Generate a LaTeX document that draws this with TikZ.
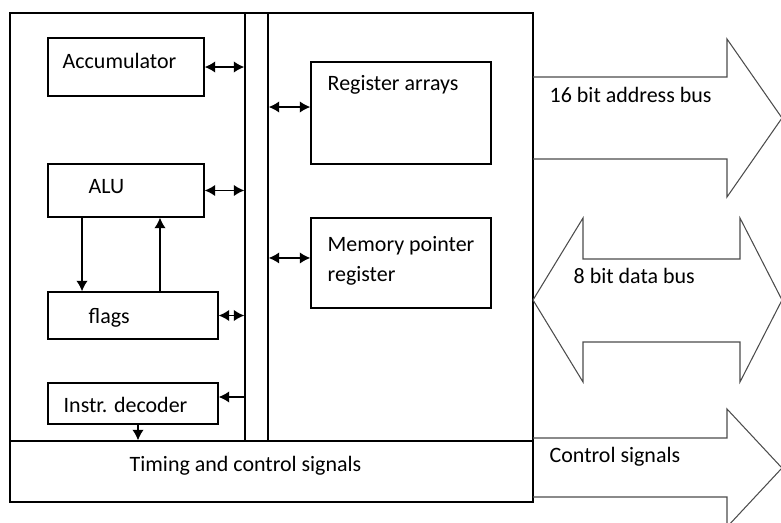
\documentclass[tikz,border=0pt]{standalone}
\usepackage{fontspec}
\setmainfont{Carlito}
\usetikzlibrary{arrows.meta, positioning}
\tikzstyle{block}=[draw,fill=white,rectangle,inner sep=0pt]
\tikzstyle{txt}=[inner sep=0pt,anchor=base west]
\tikzstyle{bigarrow}=[draw=black!70,line width=0.6pt,line join=miter]
\tikzstyle{every node}=[font=\fontsize{12.5}{17}\selectfont]

\begin{document}
\begin{tikzpicture}[x=0.02cm,y=-0.02cm,node distance=2.47cm,>={Latex[length=6pt,width=6.5pt]},line width=0.8pt]
    \clip (0,0) rectangle (781,522);
    % processor outline, internal bus and timing unit
    \node[draw, minimum width=10.46cm, minimum height=9.78cm] (cpu) at (271.5,257.5) {};
    \node[block, minimum width=0.46cm, minimum height=8.56cm] (bus) at (256.5,227) {};
    \node[block, minimum width=10.46cm, minimum height=1.22cm] (ctrl) at (271.5,471.5) {};
    % left column
    \node[block, minimum width=3.12cm, minimum height=1.16cm] (acc) at (126,67) {};
    \node[block, minimum width=3.12cm, minimum height=1.06cm, below of=acc] (alu) {};
    \node[block, minimum width=3.4cm, minimum height=0.94cm] (flags) at (133,315.5) {};
    \node[block, minimum width=3.4cm, minimum height=0.82cm, below of=flags, node distance=1.76cm] (dec) {};
    % right column
    \node[block, minimum width=3.6cm, minimum height=2.04cm] (regs) at (401,113) {};
    \node[block, minimum width=3.6cm, minimum height=1.8cm, below of=regs, node distance=3cm] (mpr) {};
    % texts
    \node[txt] (acctext) at (62,68) {Accumulator};
    \node[txt] (alutext) at (88,193) {ALU};
    \node[txt] (flagstext) at (88,323) {flags};
    \node[txt] (dectext) at (63,412) {Instr. decoder};
    \node[txt] (ctrltext) at (129,471) {Timing and control signals};
    \node[txt] (regstext) at (327,90.5) {Register arrays};
    \node[inner sep=0pt, anchor=north west, align=left] (mprtext) at (327,236) {Memory pointer\\register};
    % internal connections
    \draw[<->] (acc.east) -- (acc.east -| bus.west);
    \draw[<->] (alu.east) -- (alu.east -| bus.west);
    \draw[<->] (flags.east) -- (flags.east -| bus.west);
    \draw[->] ([yshift=0.13cm]dec.east -| bus.west) -- ([yshift=0.13cm]dec.east);
    \draw[->] ([xshift=0.1cm]dec.south) -- ([xshift=0.1cm]dec.south |- ctrl.north);
    \draw[->] ([xshift=-0.88cm]alu.south) -- ([xshift=-0.88cm]alu.south |- flags.north);
    \draw[->] ([xshift=0.68cm]alu.south |- flags.north) -- ([xshift=0.68cm]alu.south);
    \draw[<->] ([yshift=0.12cm]regs.west -| bus.east) -- ([yshift=0.12cm]regs.west);
    \draw[<->] ([yshift=0.1cm]mpr.west -| bus.east) -- ([yshift=0.1cm]mpr.west);
    % external buses
    \draw[bigarrow] (533,77) -- (727,77) -- (727,39) -- (782,118) -- (727,197) -- (727,159) -- (533,159);
    \draw[bigarrow] (533,300) -- (583,218) -- (583,259) -- (740,259) -- (740,218) -- (782,300)
        -- (740,382) -- (740,342) -- (583,342) -- (583,382) -- cycle;
    \draw[bigarrow] (533,438) -- (727,438) -- (727,409) -- (782,468) -- (727,527) -- (727,497) -- (533,497);
    \node[txt] (addrtext) at (549,102) {16 bit address bus};
    \node[txt] (datatext) at (573,283) {8 bit data bus};
    \node[txt] (sigtext) at (549,462) {Control signals};
\end{tikzpicture}
\end{document}
